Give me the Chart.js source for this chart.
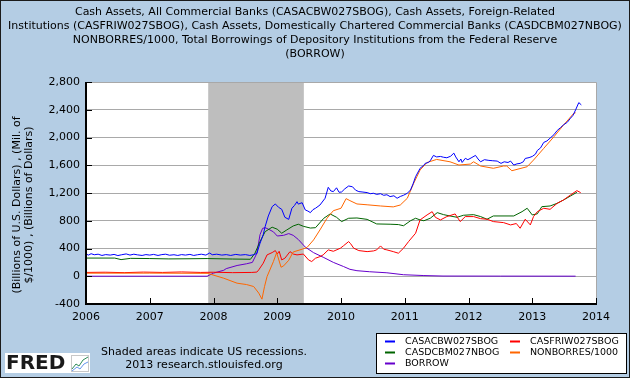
<!DOCTYPE html>
<html><head><meta charset="utf-8">
<script src="https://cdn.jsdelivr.net/npm/chart.js@4.4.0/dist/chart.umd.min.js"></script>
<style>html,body{margin:0;padding:0;background:#b4cde4;}canvas{display:block;}</style>
</head><body>
<canvas id="c" width="630" height="378"></canvas>
<script>
// ---------- DATA (decimal years, values) ----------
const titleLines = [
  'Cash Assets, All Commercial Banks (CASACBW027SBOG), Cash Assets, Foreign-Related',
  'Institutions (CASFRIW027SBOG), Cash Assets, Domestically Chartered Commercial Banks (CASDCBM027NBOG)',
  'NONBORRES/1000, Total Borrowings of Depository Institutions from the Federal Reserve',
  '(BORROW)'
];
const yAxisTitle = ['(Billions of U.S. Dollars) , (Mil. of', '$/1000) , (Billions of Dollars)'];
const xTickYears = [2006, 2007, 2008, 2009, 2010, 2011, 2012, 2013, 2014];
const yTickValues = [-400, 0, 400, 800, 1200, 1600, 2000, 2400, 2800];
const recessions = [[2007.917, 2009.417]];

const casacbDates = [2006.00,2006.04,2006.08,2006.13,2006.19,2006.25,2006.31,2006.38,2006.44,2006.50,2006.56,2006.63,2006.69,2006.75,2006.81,2006.88,2006.94,2007.00,2007.06,2007.13,2007.19,2007.25,2007.31,2007.38,2007.44,2007.50,2007.56,2007.63,2007.69,2007.75,2007.81,2007.88,2007.94,2007.98,2008.05,2008.13,2008.20,2008.27,2008.35,2008.42,2008.50,2008.57,2008.63,2008.68,2008.73,2008.78,2008.81,2008.86,2008.92,2008.97,2009.02,2009.07,2009.12,2009.18,2009.23,2009.27,2009.31,2009.33,2009.39,2009.44,2009.48,2009.52,2009.56,2009.60,2009.67,2009.75,2009.80,2009.84,2009.88,2009.93,2009.97,2010.01,2010.06,2010.12,2010.18,2010.23,2010.28,2010.33,2010.41,2010.46,2010.51,2010.56,2010.62,2010.67,2010.72,2010.77,2010.83,2010.88,2010.93,2010.98,2011.04,2011.09,2011.13,2011.17,2011.22,2011.24,2011.30,2011.32,2011.37,2011.40,2011.45,2011.50,2011.56,2011.61,2011.66,2011.72,2011.77,2011.80,2011.85,2011.88,2011.90,2011.95,2011.99,2012.04,2012.11,2012.15,2012.19,2012.25,2012.32,2012.38,2012.45,2012.51,2012.56,2012.62,2012.66,2012.71,2012.76,2012.81,2012.86,2012.89,2012.95,2013.00,2013.05,2013.08,2013.13,2013.18,2013.23,2013.28,2013.34,2013.39,2013.44,2013.49,2013.55,2013.60,2013.64,2013.68,2013.73,2013.77];
const casacbValues = [320,305,325,310,318,300,312,305,315,298,310,322,305,318,308,300,312,305,315,300,312,318,303,310,300,312,305,315,300,310,318,305,335,310,318,305,312,300,315,305,312,300,310,330,476,600,715,869,1003,1042,994,965,850,820,980,1020,1075,1040,1060,955,940,917,960,980,1027,1124,1282,1230,1220,1275,1210,1215,1260,1301,1290,1240,1220,1215,1206,1190,1196,1180,1190,1167,1175,1148,1160,1124,1150,1167,1196,1243,1330,1435,1520,1556,1600,1627,1640,1665,1742,1720,1727,1715,1708,1730,1775,1720,1650,1690,1640,1700,1680,1705,1742,1690,1650,1680,1670,1665,1660,1627,1650,1640,1660,1603,1620,1627,1650,1698,1710,1727,1760,1813,1850,1929,1950,1991,2040,2100,2140,2182,2220,2278,2320,2398,2503,2470];

const casfriDates = [2006.00,2006.30,2006.60,2006.90,2007.20,2007.50,2007.80,2008.00,2008.30,2008.60,2008.68,2008.71,2008.78,2008.84,2008.92,2008.97,2009.00,2009.03,2009.07,2009.12,2009.20,2009.25,2009.31,2009.41,2009.49,2009.54,2009.60,2009.67,2009.72,2009.80,2009.88,2009.99,2010.04,2010.12,2010.15,2010.20,2010.28,2010.41,2010.51,2010.56,2010.62,2010.67,2010.72,2010.82,2010.90,2010.98,2011.06,2011.17,2011.24,2011.35,2011.43,2011.48,2011.56,2011.66,2011.79,2011.87,2011.95,2012.08,2012.19,2012.29,2012.39,2012.55,2012.66,2012.75,2012.81,2012.89,2012.97,2013.02,2013.08,2013.18,2013.28,2013.39,2013.49,2013.60,2013.70,2013.76];
const casfriValues = [55,58,52,60,55,62,55,58,52,55,60,92,188,308,341,370,320,360,236,260,355,320,308,320,236,212,260,283,308,380,360,404,440,500,470,404,370,355,365,380,437,390,380,355,332,404,500,620,812,884,931,850,812,860,898,788,860,860,830,822,788,773,740,760,692,822,740,860,931,980,965,1051,1099,1172,1234,1205];

const casdcbDates = [2006.00,2006.45,2006.55,2006.70,2007.00,2007.30,2007.60,2007.90,2008.30,2008.58,2008.65,2008.73,2008.81,2008.92,2009.00,2009.07,2009.15,2009.25,2009.33,2009.41,2009.52,2009.60,2009.73,2009.83,2009.93,2010.01,2010.12,2010.25,2010.41,2010.56,2010.77,2010.90,2010.98,2011.09,2011.17,2011.24,2011.30,2011.40,2011.51,2011.61,2011.71,2011.82,2011.92,2012.08,2012.19,2012.29,2012.39,2012.71,2012.84,2012.92,2013.00,2013.08,2013.15,2013.28,2013.39,2013.49,2013.60,2013.70];
const casdcbValues = [262,262,240,258,255,250,252,255,248,245,332,500,643,707,678,620,668,725,750,720,695,700,836,898,850,788,836,840,820,754,750,745,728,800,836,812,800,836,917,888,869,850,879,888,860,822,869,869,931,980,884,900,1003,1013,1051,1099,1157,1210];

const nonborresDates = [2006.00,2007.00,2007.90,2007.95,2008.16,2008.37,2008.52,2008.63,2008.71,2008.76,2008.80,2008.84,2008.94,2008.99,2009.06,2009.10,2009.18,2009.25,2009.39,2009.47,2009.57,2009.67,2009.78,2009.88,2010.00,2010.08,2010.14,2010.25,2010.41,2010.62,2010.82,2010.93,2011.04,2011.14,2011.24,2011.35,2011.50,2011.71,2011.85,2012.03,2012.08,2012.19,2012.39,2012.55,2012.60,2012.68,2012.92,2013.02,2013.18,2013.34,2013.49,2013.65,2013.68];
const nonborresValues = [44,45,42,30,-28,-100,-120,-148,-243,-330,-150,-4,212,340,130,150,230,350,390,418,524,668,836,945,980,1119,1090,1042,1030,1013,1000,1027,1124,1340,1531,1640,1684,1650,1603,1617,1650,1589,1556,1589,1589,1521,1579,1675,1843,2011,2179,2347,2357];

const borrowDates = [2006.00,2007.90,2008.00,2008.16,2008.20,2008.37,2008.52,2008.61,2008.68,2008.73,2008.77,2008.81,2008.86,2008.94,2009.00,2009.10,2009.18,2009.25,2009.33,2009.44,2009.57,2009.73,2009.88,2010.04,2010.14,2010.25,2010.45,2010.72,2010.98,2011.30,2011.60,2012.50,2013.68];
const borrowValues = [0.3,0.5,45,86,110,155,180,200,330,600,690,700,680,640,580,590,615,590,530,420,340,270,200,140,100,80,65,50,22,10,3,2,1];

// ---------- STYLE ----------
const BG = '#b4cde4';
const FONT = '"DejaVu Sans", Verdana, sans-serif';

function pts(d, v){ return d.map((x,i)=>({x:x, y:v[i]})); }

const series = [
  {label:'CASACBW027SBOG', color:'#0000ff', data:pts(casacbDates, casacbValues)},
  {label:'CASFRIW027SBOG', color:'#ff0000', data:pts(casfriDates, casfriValues)},
  {label:'CASDCBM027NBOG', color:'#006400', data:pts(casdcbDates, casdcbValues)},
  {label:'NONBORRES/1000', color:'#ff6600', data:pts(nonborresDates, nonborresValues)},
  {label:'BORROW', color:'#6600cc', data:pts(borrowDates, borrowValues)}
];
// draw order: purple under? keep blue on top
const drawOrder = {'CASACBW027SBOG':0,'CASFRIW027SBOG':2,'CASDCBM027NBOG':3,'NONBORRES/1000':1,'BORROW':4};

const decor = {
  id:'decor',
  beforeDraw(chart){
    const ctx = chart.ctx, a = chart.chartArea;
    ctx.save();
    ctx.fillStyle = BG; ctx.fillRect(0,0,chart.width,chart.height);
    ctx.fillStyle = '#ffffff'; ctx.fillRect(a.left,a.top,a.right-a.left,a.bottom-a.top);
    ctx.restore();
  },
  beforeDatasetsDraw(chart){
    const ctx = chart.ctx, a = chart.chartArea, xs = chart.scales.x;
    ctx.save();
    ctx.fillStyle = '#bebebe';
    recessions.forEach(([s,e])=>{
      const x0 = xs.getPixelForValue(s), x1 = xs.getPixelForValue(e);
      ctx.fillRect(x0, a.top, x1-x0, a.bottom-a.top);
    });
    ctx.restore();
  },
  afterDatasetsDraw(chart){
    const ctx = chart.ctx, a = chart.chartArea, xs = chart.scales.x, ys = chart.scales.y;
    ctx.save();
    // plot frame
    ctx.strokeStyle = '#a8a8a8'; ctx.lineWidth = 1;
    ctx.beginPath();
    ctx.moveTo(a.left, a.top+0.5); ctx.lineTo(a.right+0.5, a.top+0.5); ctx.lineTo(a.right+0.5, a.bottom);
    ctx.stroke();
    ctx.strokeStyle = '#000'; ctx.lineWidth = 2;
    ctx.beginPath();
    ctx.moveTo(a.left, a.top); ctx.lineTo(a.left, a.bottom); ctx.lineTo(a.right+1, a.bottom);
    ctx.stroke();
    // inward ticks
    ctx.lineWidth = 1;
    ctx.beginPath();
    yTickValues.forEach(v=>{ const y = Math.round(ys.getPixelForValue(v))+0.5; ctx.moveTo(a.left, y); ctx.lineTo(a.left+6, y); });
    xTickYears.forEach(v=>{ const x = Math.round(xs.getPixelForValue(v))+0.5; ctx.moveTo(x, a.bottom); ctx.lineTo(x, a.bottom-6); });
    ctx.stroke();

    // title
    ctx.fillStyle = '#000';
    ctx.font = '11px ' + FONT;
    ctx.textAlign = 'center'; ctx.textBaseline = 'middle';
    titleLines.forEach((t,i)=>ctx.fillText(t, 315, 12 + i*14));

    // y axis title
    ctx.save();
    ctx.translate(17, 205); ctx.rotate(-Math.PI/2);
    ctx.fillText(yAxisTitle[0], 0, 0);
    ctx.fillText(yAxisTitle[1], 0, 12);
    ctx.restore();

    // footer
    ctx.font = '11px ' + FONT;
    ctx.fillText('Shaded areas indicate US recessions.', 204, 352);
    ctx.fillText('2013 research.stlouisfed.org', 204, 365);

    // FRED logo
    ctx.fillStyle = '#fff'; ctx.fillRect(5, 353, 85, 20);
    ctx.fillStyle = '#1a1a1a'; ctx.font = 'bold 20px ' + FONT; ctx.textAlign = 'left';
    ctx.fillText('FRED', 6, 364);
    ctx.strokeStyle = '#c8c8c8'; ctx.lineWidth = 1; ctx.strokeRect(71.5, 355.5, 17, 16);
    ctx.strokeStyle = '#2e8b57'; ctx.beginPath(); ctx.moveTo(72,369); ctx.lineTo(76,364); ctx.lineTo(79,366); ctx.lineTo(83,360); ctx.lineTo(88,357); ctx.stroke();
    ctx.strokeStyle = '#6495ed'; ctx.beginPath(); ctx.moveTo(72,371); ctx.lineTo(77,367); ctx.lineTo(80,369); ctx.lineTo(84,364); ctx.lineTo(88,362); ctx.stroke();

    // legend
    ctx.fillStyle = '#fff'; ctx.fillRect(376.5, 333.5, 250, 40);
    ctx.strokeStyle = '#000'; ctx.lineWidth = 1; ctx.strokeRect(376.5, 333.5, 250, 40);
    const cols = [385, 510], rows = [341.5, 352.5, 363.5];
    const order = ['CASACBW027SBOG','CASFRIW027SBOG','CASDCBM027NBOG','NONBORRES/1000','BORROW'];
    ctx.font = '9.5px ' + FONT; ctx.textBaseline = 'middle'; ctx.textAlign = 'left';
    order.forEach((lab,i)=>{
      const s = series.find(q=>q.label===lab);
      const cx = cols[i%2], cy = rows[Math.floor(i/2)];
      ctx.fillStyle = s.color; ctx.fillRect(cx, cy-1, 10, 2);
      ctx.fillStyle = '#000'; ctx.fillText(lab, cx+20, cy+0.5);
    });

    // outer border
    ctx.strokeStyle = '#1a1a1a'; ctx.lineWidth = 1; ctx.strokeRect(0.5, 0.5, chart.width-1, chart.height-1);
    ctx.restore();
  }
};

new Chart(document.getElementById('c'), {
  type:'line',
  data:{ datasets: series.map(s=>({
    label:s.label, data:s.data, borderColor:s.color, backgroundColor:s.color,
    borderWidth:1, pointRadius:0, tension:0, fill:false, order:drawOrder[s.label]
  }))},
  options:{
    responsive:false, animation:false, devicePixelRatio:1,
    layout:{padding:{left:0, right:34, top:82, bottom:0}},
    plugins:{legend:{display:false}, title:{display:false}, tooltip:{enabled:false}},
    scales:{
      x:{ type:'linear', min:2006, max:2014,
        afterBuildTicks(sc){ sc.ticks = xTickYears.map(v=>({value:v})); },
        afterFit(sc){ sc.height = 74; },
        grid:{display:false, drawTicks:false}, border:{display:false},
        ticks:{ color:'#000', font:{family:FONT, size:11}, padding:7, maxRotation:0, autoSkip:false,
          callback:v=>String(v) } },
      y:{ min:-400, max:2800,
        afterBuildTicks(sc){ sc.ticks = yTickValues.map(v=>({value:v})); },
        afterFit(sc){ sc.width = 86; },
        grid:{color:'#a9a9a9', lineWidth:1, drawTicks:false}, border:{display:false},
        ticks:{ color:'#000', font:{family:FONT, size:11}, padding:6,
          callback:v=>v.toLocaleString('en-US') } }
    }
  },
  plugins:[decor]
});
</script></body></html>
